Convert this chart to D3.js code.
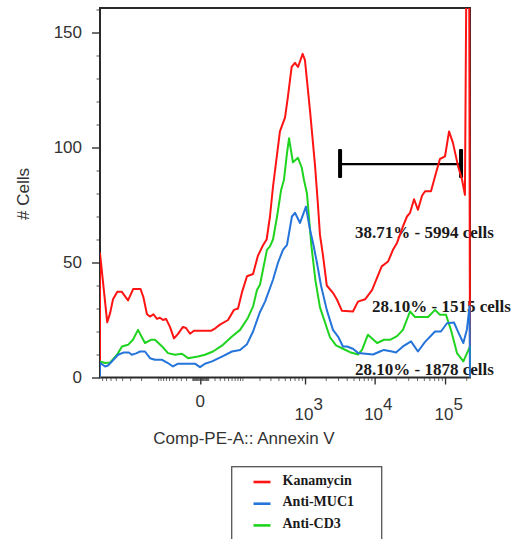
<!DOCTYPE html>
<html>
<head>
<meta charset="utf-8">
<script src="https://cdn.jsdelivr.net/npm/d3@7"></script>
<style>
  html, body { margin: 0; padding: 0; background: #fff; }
  svg { display: block; }
</style>
</head>
<body>
<svg id="chart" width="512" height="539"></svg>
<script>
// Histogram overlays: [channel bin (0-256), cell count]
const seriesNames = ["Kanamycin", "Anti-MUC1", "Anti-CD3"];

const kanamycin = [
  [0,54],[5,24],[7,28],[9,34],[12,37.3],[15,37.3],[19.4,33.5],[23,38.5],[28,38.5],[30,35],
  [32.5,27.5],[34.6,26.5],[37,27.5],[39.4,25.5],[41.5,26],[43.6,25],[45.7,25.5],[48.4,22],
  [51.2,17],[54,19],[57.4,22],[59.5,21.5],[62.3,19],[65,20.3],[76.8,20.3],[80,21.5],[83,23],
  [88.6,25],[92.7,29.4],[95.5,30],[98.2,37],[101.7,44],[105.9,45],[109.3,53],[112.8,57.5],
  [115.3,60],[117.6,70],[119.7,83],[122.5,97],[124.5,107],[128,113],[130,122],[132.6,135],
  [134.9,136.8],[137,135],[140.2,140.7],[141.8,138],[145.3,116],[148.8,92],[150.8,75],
  [152.2,62],[154.3,53],[156.9,40],[161.2,36.8],[164,33.8],[167.4,29],[175,28.7],[178.5,33],
  [183.4,34],[188.2,38],[194.9,48.3],[199.3,50.4],[202.7,55.5],[205.5,58.5],[209.6,65.7],
  [212.4,70],[214.5,71.6],[217.3,77.5],[220,72.9],[222.8,79],[224.9,81],[229,81],[231.8,87.4],
  [235.2,95],[238.7,96.1],[241.5,107],[244.2,102],[247.7,92],[250.5,86],[252.5,79.4],[255,320]
];

const antiMUC1 = [
  [0,6.4],[3.5,4.8],[5.5,5.2],[8.3,7],[12.5,9.9],[16.6,10.9],[20,10.9],[22,9.9],[25,10.5],
  [27.7,11.3],[31.1,11.3],[34.6,8.4],[38,7.7],[43,7.7],[47,6.3],[50.5,4.8],[54,6],[65.7,6],
  [69.2,4.5],[72.6,6],[77.5,7],[84.4,9.1],[91.3,11.3],[96.9,12],[101.7,14.5],[105.9,20],
  [110.7,28.5],[114.2,33],[119.7,42.5],[123.2,50],[126.6,55.5],[129.4,57.7],[132.8,70],
  [134.9,71.6],[138.4,67.2],[142.5,74.3],[145.3,64.2],[147.4,58.5],[150.1,49.9],[152.9,40],
  [156.9,29.4],[161.2,20.7],[164.7,17.8],[168.1,13.5],[170.9,13.5],[175,12.5],[178.5,10.7],
  [188.9,10],[193.7,11.3],[196.5,12],[202,11.3],[204.8,10.9],[209.6,13.5],[215.2,15.7],
  [220,11.3],[224.9,15.5],[231.8,20],[235.9,20],[240.1,23.6],[244.9,23.9],[248.4,19],
  [251.4,15],[253.9,21],[255.7,31]
];

const antiCD3 = [
  [0,7],[3.5,6.3],[6.9,6.5],[11.8,9.9],[15.2,13.5],[19.4,14.2],[22.8,16.4],[26.3,20.7],
  [31.1,15],[35.3,16.4],[38,16.4],[43,13.5],[47,10.6],[51.9,9.9],[56.7,10.3],[60.9,8.4],
  [67.8,9.1],[72.6,9.9],[78.2,11.3],[85.1,14.2],[91.3,17.8],[96.9,20.7],[102.4,26],
  [105.9,30.9],[108.6,38],[110.7,40.3],[115.5,55.5],[117.6,57],[119.7,60],[122.5,70],
  [125.3,81.5],[127.3,86],[129.4,97.7],[130.8,104],[133.5,93.6],[137,95.5],[139.6,91.2],
  [141.1,86],[143.2,80],[146.3,57],[149.1,42],[152.2,30.5],[159.1,17.5],[163.3,14],
  [168.1,12.5],[173,11],[178.5,10],[181.3,12],[185.4,18.6],[191.7,15],[196.5,16.4],
  [200.7,16.4],[205.5,18],[209.6,20.7],[214.5,28.7],[218,26.3],[227,26.3],[231.8,29.4],
  [235.2,27.3],[239.4,27.3],[242.9,20.5],[247,10.6],[251.4,7],[256,13.5]
];

// Axis definitions
const yTicks = [0, 50, 100, 150];
const xMajorTicks = [0, 1e3, 1e4, 1e5];
const xTickLabels = [{base: "0", exp: ""}, {base: "10", exp: "3"}, {base: "10", exp: "4"}, {base: "10", exp: "5"}];
const xTitle = "Comp-PE-A:: Annexin V";
const yTitle = "# Cells";

// Gate and its statistics
const gate = {from: 166.1, to: 249.8, level: 92.8};
const gateStats = ["38.71% - 5994 cells", "28.10% - 1515 cells", "28.10% - 1878 cells"];

const colors = ["#ff1414", "#2474da", "#1fd41f"];

// ---- drawing ----
const svg = d3.select("#chart");
const plot = {left: 100, right: 470, top: 8, bottom: 377.5};
const sansFont = "'Liberation Sans', Arial, sans-serif";
const serifFont = "'Liberation Serif', 'Times New Roman', serif";

const xBin = d3.scaleLinear().domain([0, 256]).range([plot.left, plot.right]);
const xAxisScale = d3.scaleSymlog().constant(33.8).domain([-860, 226000]).range([plot.left, plot.right]);
const y = d3.scaleLinear().domain([0, 160.65]).range([plot.bottom, plot.top]);

svg.append("defs").append("clipPath").attr("id", "plotClip")
  .append("rect")
  .attr("x", plot.left).attr("y", plot.top)
  .attr("width", plot.right - plot.left + 2).attr("height", plot.bottom - plot.top);

// Y axis: major + minor ticks
const yAxisG = svg.append("g").attr("transform", `translate(${plot.left},0)`);
yAxisG.call(d3.axisLeft(y).tickValues(yTicks).tickSize(8).tickPadding(10));
yAxisG.select(".domain").remove();
yAxisG.selectAll(".tick line").attr("stroke", "#333").attr("stroke-width", 1.4);
yAxisG.selectAll(".tick text").attr("font-family", sansFont).attr("font-size", 17).attr("fill", "#333");

const yMinor = d3.range(0, 161, 10).filter(v => !yTicks.includes(v));
const yMinorG = svg.append("g").attr("transform", `translate(${plot.left},0)`);
yMinorG.call(d3.axisLeft(y).tickValues(yMinor).tickSize(3.5).tickFormat(""));
yMinorG.select(".domain").remove();
yMinorG.selectAll(".tick line").attr("stroke", "#555").attr("stroke-width", 1);

// X axis: biexponential-like ticks
const xMinor = [];
for (let d = 0; d <= 5; d++) {
  for (let k = 1; k <= 9; k++) {
    const v = k * Math.pow(10, d);
    if (xMajorTicks.includes(v)) continue;
    if (v <= 226000) xMinor.push(v);
    if (-v >= -860) xMinor.push(-v);
  }
}
const xMinorG = svg.append("g").attr("transform", `translate(0,${plot.bottom})`);
xMinorG.call(d3.axisBottom(xAxisScale).tickValues(xMinor).tickSize(3.5).tickFormat(""));
xMinorG.select(".domain").remove();
xMinorG.selectAll(".tick line").attr("stroke", "#555").attr("stroke-width", 0.9);

const xMajorG = svg.append("g").attr("transform", `translate(0,${plot.bottom})`);
xMajorG.call(d3.axisBottom(xAxisScale).tickValues(xMajorTicks).tickSize(7).tickFormat(""));
xMajorG.select(".domain").remove();
xMajorG.selectAll(".tick line").attr("stroke", "#333").attr("stroke-width", 1.4);

const xLab = svg.append("g").attr("font-family", sansFont).attr("font-size", 17).attr("fill", "#333");
xMajorTicks.forEach((v, i) => {
  const lab = xTickLabels[i];
  const px = xAxisScale(v);
  if (!lab.exp) {
    xLab.append("text").attr("x", px).attr("y", 407).attr("text-anchor", "middle").text(lab.base);
  } else {
    xLab.append("text").attr("x", px - 1).attr("y", 420).attr("text-anchor", "middle").text(lab.base);
    xLab.append("text").attr("x", px + 8.5).attr("y", 410).attr("text-anchor", "start").text(lab.exp);
  }
});

// Axis titles
svg.append("text")
  .attr("x", (plot.left + plot.right) / 2 - 41).attr("y", 444)
  .attr("text-anchor", "middle")
  .attr("font-family", sansFont).attr("font-size", 17).attr("fill", "#333")
  .text(xTitle);

svg.append("text")
  .attr("transform", "translate(29,194) rotate(-90)")
  .attr("text-anchor", "middle")
  .attr("font-family", sansFont).attr("font-size", 17).attr("fill", "#333")
  .text(yTitle);

// Gate statistics text (beneath the curves)
const statPos = [[355, 238], [372, 312], [355, 375]];
svg.append("g").selectAll("text").data(gateStats).join("text")
  .attr("x", (d, i) => statPos[i][0]).attr("y", (d, i) => statPos[i][1])
  .attr("font-family", serifFont).attr("font-weight", "bold").attr("font-size", 17)
  .attr("fill", "#1a1a1a")
  .text(d => d);

// Plot frame
svg.append("rect")
  .attr("x", plot.left).attr("y", plot.top)
  .attr("width", plot.right - plot.left).attr("height", plot.bottom - plot.top)
  .attr("fill", "none").attr("stroke", "#2a2a2a").attr("stroke-width", 2);

// Gate marker
const gateG = svg.append("g");
gateG.append("line")
  .attr("x1", xBin(gate.from)).attr("x2", xBin(gate.to))
  .attr("y1", y(gate.level)).attr("y2", y(gate.level))
  .attr("stroke", "#000").attr("stroke-width", 2.2);
[gate.from, gate.to].forEach(b => {
  gateG.append("rect")
    .attr("x", xBin(b) - 2).attr("y", y(gate.level) - 15)
    .attr("width", 4).attr("height", 29)
    .attr("rx", 1)
    .attr("fill", "#000");
});

// Histogram outlines, closed to the baseline at both ends
const line = d3.line().x(d => xBin(d[0])).y(d => y(d[1]));
const allSeries = [kanamycin, antiMUC1, antiCD3];
const drawOrder = [0, 2, 1];
const curves = svg.append("g").attr("clip-path", "url(#plotClip)");
drawOrder.forEach(i => {
  const s = allSeries[i];
  const pts = [[s[0][0], 0], ...s, [256, 0]];
  curves.append("path")
    .attr("d", line(pts))
    .attr("fill", "none")
    .attr("stroke", colors[i])
    .attr("stroke-width", 2)
    .attr("stroke-linejoin", "round");
});

// Legend
const legend = svg.append("g");
legend.append("rect")
  .attr("x", 231.7).attr("y", 466.7).attr("width", 150).attr("height", 90)
  .attr("fill", "#fff").attr("stroke", "#555").attr("stroke-width", 1.3);
seriesNames.forEach((name, i) => {
  const base = 484.5 + i * 21.7;
  legend.append("line")
    .attr("x1", 253.5).attr("x2", 270.5)
    .attr("y1", base - 2.5).attr("y2", base - 2.5)
    .attr("stroke", colors[i]).attr("stroke-width", 2.6);
  legend.append("text")
    .attr("x", 282.5).attr("y", base)
    .attr("font-family", serifFont).attr("font-weight", "bold").attr("font-size", 14)
    .attr("fill", "#1a1a1a")
    .text(name);
});
</script>
</body>
</html>
